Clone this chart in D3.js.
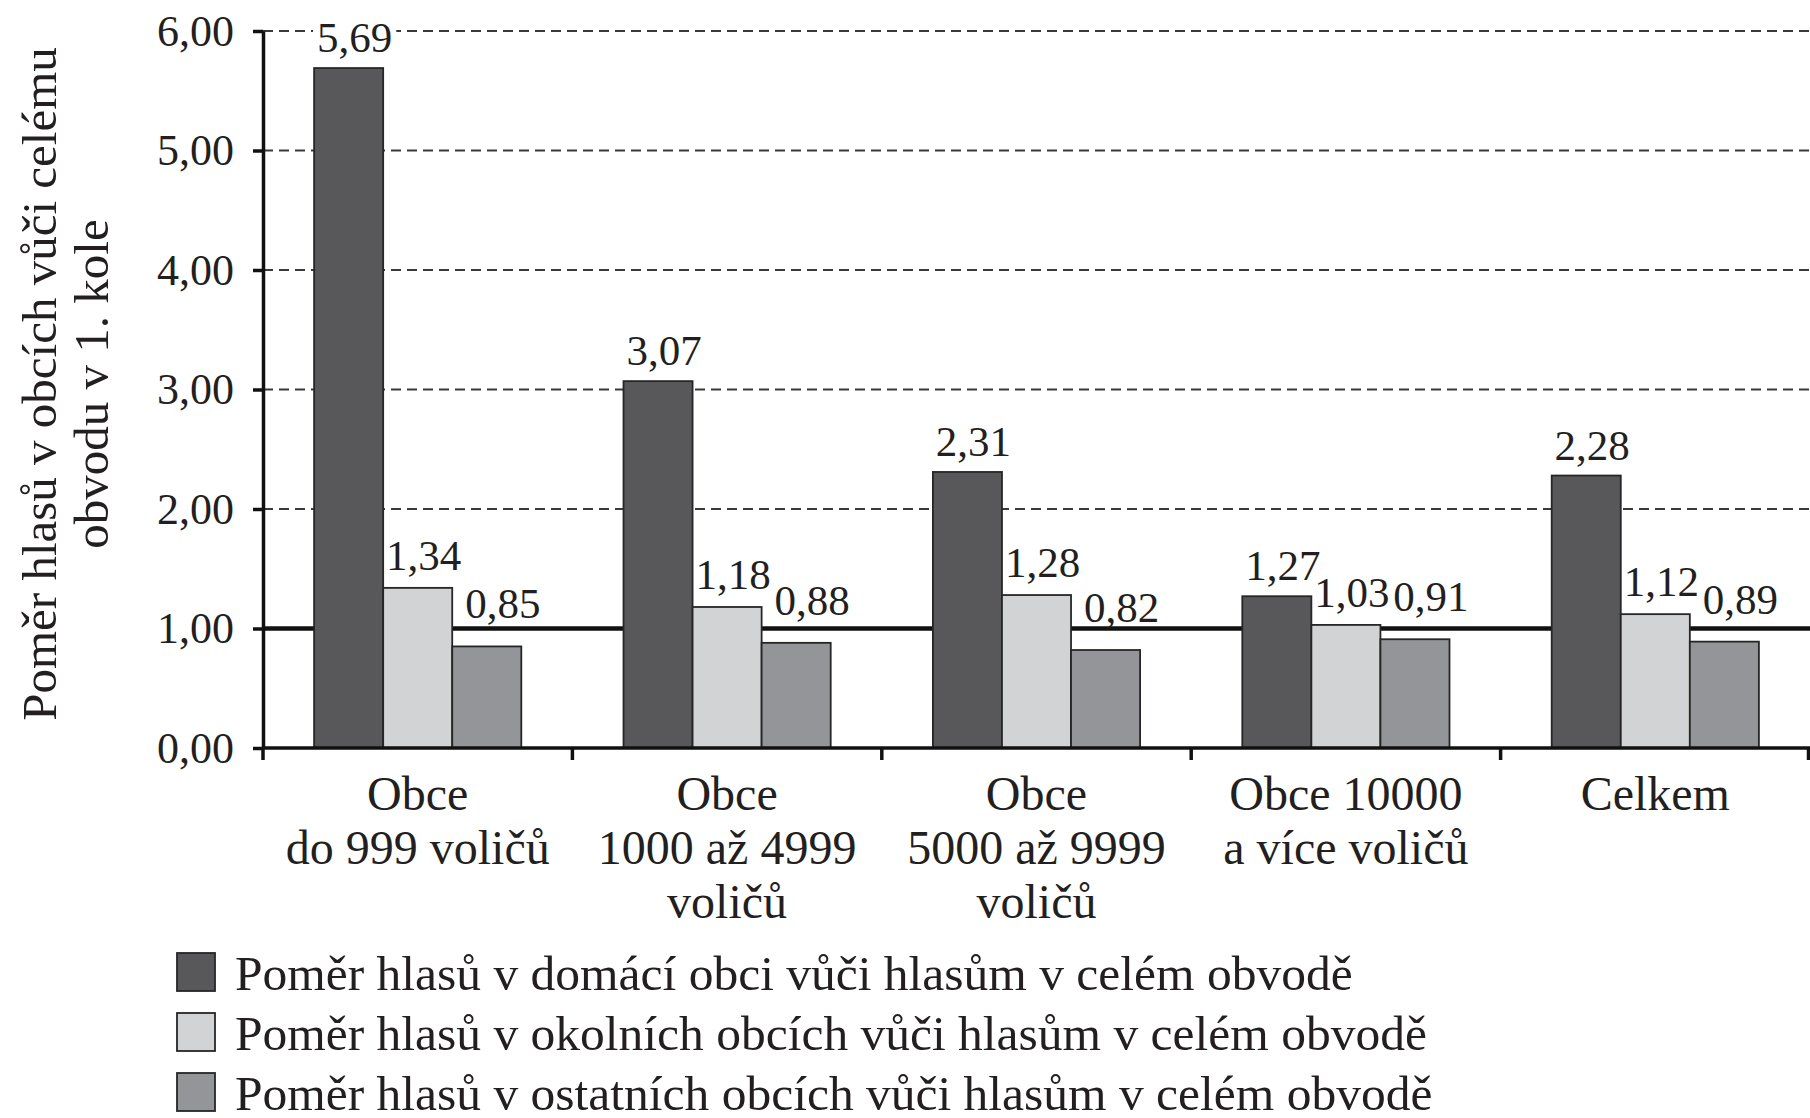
<!DOCTYPE html>
<html>
<head>
<meta charset="utf-8">
<script src="https://cdn.jsdelivr.net/npm/d3@7"></script>
<style>
  body { margin: 0; background: #fff; }
  text { font-family: "Liberation Serif", "DejaVu Serif", serif; fill: #231f20; }
</style>
</head>
<body>
<div id="chart"></div>
<script>
// categories (each entry is a list of label lines)
const categories = ['c1', 'c2', 'c3', 'c4', 'c5'];
const categoryLines = [
  ['Obce', 'do 999 voličů'],
  ['Obce', '1000 až 4999', 'voličů'],
  ['Obce', '5000 až 9999', 'voličů'],
  ['Obce 10000', 'a více voličů'],
  ['Celkem']
];

const seriesNames = [
  'Poměr hlasů v domácí obci vůči hlasům v celém obvodě',
  'Poměr hlasů v okolních obcích vůči hlasům v celém obvodě',
  'Poměr hlasů v ostatních obcích vůči hlasům v celém obvodě'
];
const domaci = [5.69, 3.07, 2.31, 1.27, 2.28];
const okolni = [1.34, 1.18, 1.28, 1.03, 1.12];
const ostatni = [0.85, 0.88, 0.82, 0.91, 0.89];

const yTicks = [0, 1, 2, 3, 4, 5, 6];
const yTitle = ['Poměr hlasů v obcích vůči celému', 'obvodu v 1. kole'];

const colors = ['#58585a', '#d2d3d5', '#939598'];
const labelLift = [16, 18, 28]; // gap between bar top and label baseline, per series
const labelShift = [6, 6, 16];  // labels sit a bit right of bar centre

const width = 1810;
const height = 1118;
const margin = { top: 31, right: 0, bottom: 370, left: 263 };

const cz = d3.formatLocale({ decimal: ',', thousands: ' ', grouping: [3], currency: ['', ' Kč'] });
const fmt = cz.format('.2f');

const svg = d3.select('#chart').append('svg')
  .attr('width', width)
  .attr('height', height);

const x0 = d3.scaleBand()
  .domain(categories)
  .range([margin.left, width - margin.right]);

const x1 = d3.scaleBand()
  .domain([0, 1, 2])
  .range([0, x0.bandwidth()])
  .paddingInner(0)
  .paddingOuter(0.74);

const y = d3.scaleLinear()
  .domain([0, 6])
  .range([height - margin.bottom, margin.top]);

const gGrid = svg.append('g');
const gBg = svg.append('g');
const gRef = svg.append('g');
const gBars = svg.append('g');
const gAxes = svg.append('g');
const gLabels = svg.append('g');

// dashed grid lines
gGrid.selectAll('line')
  .data(yTicks.filter((t) => t >= 2))
  .join('line')
  .attr('x1', margin.left)
  .attr('x2', width - margin.right)
  .attr('y1', (d) => y(d))
  .attr('y2', (d) => y(d))
  .attr('stroke', '#3a3a3a')
  .attr('stroke-width', 2)
  .attr('stroke-dasharray', '10,6');

// reference line at 1,00
gRef.append('line')
  .attr('x1', margin.left)
  .attr('x2', width - margin.right)
  .attr('y1', y(1))
  .attr('y2', y(1))
  .attr('stroke', '#111')
  .attr('stroke-width', 4.5);

const series = [domaci, okolni, ostatni];
const barData = [];
categories.forEach((c, i) => {
  series.forEach((s, j) => barData.push({ cat: c, s: j, value: s[i] }));
});

gBars.selectAll('rect')
  .data(barData)
  .join('rect')
  .attr('x', (d) => x0(d.cat) + x1(d.s))
  .attr('width', x1.bandwidth())
  .attr('y', (d) => y(d.value))
  .attr('height', (d) => y(0) - y(d.value))
  .attr('fill', (d) => colors[d.s])
  .attr('stroke', '#262626')
  .attr('stroke-width', 1.8);

// y axis
const yAxis = gAxes.append('g')
  .attr('transform', `translate(${margin.left},0)`)
  .call(d3.axisLeft(y).tickValues(yTicks).tickFormat(fmt).tickSize(10).tickPadding(19).tickSizeOuter(0));
yAxis.select('.domain').attr('stroke', '#111').attr('stroke-width', 3.5);
yAxis.selectAll('.tick line').attr('stroke', '#111').attr('stroke-width', 3.5);
yAxis.selectAll('.tick text')
  .style('font-family', '"Liberation Serif", "DejaVu Serif", serif')
  .style('font-size', '44px')
  .attr('fill', '#231f20');

// x axis line and ticks at band edges
gAxes.append('line')
  .attr('x1', margin.left)
  .attr('x2', width - margin.right)
  .attr('y1', y(0))
  .attr('y2', y(0))
  .attr('stroke', '#111')
  .attr('stroke-width', 3.5);
const edges = categories.map((c) => x0(c)).concat([x0.range()[1] - 1.5]);
gAxes.selectAll('.xtick')
  .data(edges)
  .join('line')
  .attr('class', 'xtick')
  .attr('x1', (d) => d)
  .attr('x2', (d) => d)
  .attr('y1', y(0))
  .attr('y2', y(0) + 12)
  .attr('stroke', '#111')
  .attr('stroke-width', 3.5);

// category labels
const catG = gAxes.selectAll('.cat')
  .data(categories)
  .join('text')
  .attr('class', 'cat')
  .attr('text-anchor', 'middle')
  .style('font-size', '48px');
catG.each(function (c, i) {
  const t = d3.select(this);
  categoryLines[i].forEach((line, k) => {
    t.append('tspan')
      .attr('x', x0(c) + x0.bandwidth() / 2)
      .attr('y', y(0) + 62 + k * 54)
      .text(line);
  });
});

// value labels
const labels = gLabels.selectAll('text')
  .data(barData)
  .join('text')
  .attr('x', (d) => x0(d.cat) + x1(d.s) + x1.bandwidth() / 2 + labelShift[d.s])
  .attr('y', (d) => y(d.value) - labelLift[d.s])
  .attr('text-anchor', 'middle')
  .style('font-size', '43px')
  .text((d) => fmt(d.value));

labels.each(function () {
  const b = this.getBBox();
  gBg.append('rect')
    .attr('x', b.x - 4)
    .attr('y', b.y)
    .attr('width', b.width + 8)
    .attr('height', b.height - 6)
    .attr('fill', '#fff');
});

// y axis title
svg.append('g')
  .attr('transform', 'translate(0,384) rotate(-90)')
  .selectAll('text')
  .data(yTitle)
  .join('text')
  .attr('x', 0)
  .attr('y', (d, i) => 56 + i * 52)
  .attr('text-anchor', 'middle')
  .style('font-size', '49px')
  .text((d) => d);

// legend
const legend = svg.append('g')
  .attr('transform', 'translate(177,953)');
const li = legend.selectAll('g')
  .data(seriesNames)
  .join('g')
  .attr('transform', (d, i) => `translate(0,${i * 60})`);
li.append('rect')
  .attr('width', 38)
  .attr('height', 38)
  .attr('fill', (d, i) => colors[i])
  .attr('stroke', '#262626')
  .attr('stroke-width', 1.8);
li.append('text')
  .attr('x', 58)
  .attr('y', 37)
  .style('font-size', '49.5px')
  .text((d) => d);
</script>
</body>
</html>
